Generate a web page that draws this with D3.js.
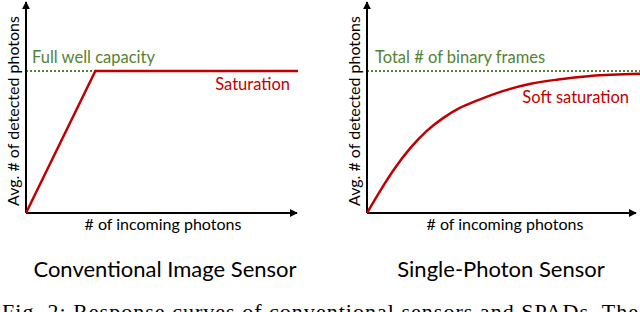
<!DOCTYPE html>
<html>
<head>
<meta charset="utf-8">
<script src="https://cdn.jsdelivr.net/npm/d3@7"></script>
<style>
  body { margin: 0; background: #fff; }
  svg { display: block; }
  text { font-family: Lato, "Open Sans", sans-serif; }
</style>
</head>
<body>
<script>
// incoming photons (0..10) vs detected photons (fraction of the cap)
var conventionalX = [0, 2.55, 10];
var conventionalY = [0, 1, 1];

var spadX = [0, 0.4, 1, 1.6, 2.2, 2.8, 3.4, 4, 5, 6, 7, 8.2, 10];
var spadY = [0, 0.13, 0.31, 0.46, 0.58, 0.67, 0.74, 0.79, 0.86, 0.91, 0.94, 0.965, 0.98];

var capLevel = 1;
var panelTitles = ["Conventional Image Sensor", "Single-Photon Sensor"];
var capLabels = ["Full well capacity", "Total # of binary frames"];
var curveLabels = ["Saturation", "Soft saturation"];
var xTitle = "# of incoming photons";
var yTitle = "Avg. # of detected photons";
var caption = "Fig. 2: Response curves of conventional sensors and SPADs. The";

var red = "#c00000", green = "#548235";

var svg = d3.select("body")
            .append("svg")
            .attr("width", 640)
            .attr("height", 312);

svg.append("defs").append("marker")
   .attr("id", "arrow")
   .attr("viewBox", "0 0 10 10")
   .attr("refX", 9).attr("refY", 5)
   .attr("markerWidth", 4).attr("markerHeight", 4)
   .attr("orient", "auto")
   .append("path")
   .attr("d", "M0,0L10,5L0,10Z")
   .attr("fill", "#000");

var panels = [
  { xs: conventionalX, ys: conventionalY, left: 26, right: 298, axisEnd: 297,
    curve: d3.curveLinear, capEnd: 2.55,
    title: panelTitles[0], titleX: 165, xTitleX: 163,
    cap: capLabels[0], capX: 32,
    lab: curveLabels[0], labX: 290, labY: 90 },
  { xs: spadX, ys: spadY, left: 367, right: 640, axisEnd: 636,
    curve: d3.curveMonotoneX, capEnd: 10,
    title: panelTitles[1], titleX: 501, xTitleX: 505,
    cap: capLabels[1], capX: 375,
    lab: curveLabels[1], labX: 629, labY: 103 }
];

panels.forEach(function(p) {
  var x = d3.scaleLinear().domain([0, 10]).range([p.left, p.right]);
  var y = d3.scaleLinear().domain([0, 1]).range([213, 71]);
  var g = svg.append("g");

  // dotted cap line
  g.append("line")
   .attr("x1", x(0)).attr("x2", x(p.capEnd))
   .attr("y1", y(capLevel)).attr("y2", y(capLevel))
   .attr("stroke", green).attr("stroke-width", 2)
   .attr("stroke-dasharray", "2,2");

  // axes
  g.append("line")
   .attr("x1", x(0)).attr("x2", x(0))
   .attr("y1", y(0)).attr("y2", 2)
   .attr("stroke", "#000").attr("stroke-width", 2)
   .attr("marker-end", "url(#arrow)");
  g.append("line")
   .attr("x1", x(0)).attr("x2", p.axisEnd)
   .attr("y1", y(0)).attr("y2", y(0))
   .attr("stroke", "#000").attr("stroke-width", 2)
   .attr("marker-end", "url(#arrow)");

  // response curve
  var line = d3.line()
               .x(function(d){ return x(d[0]); })
               .y(function(d){ return y(d[1]); })
               .curve(p.curve);
  g.append("path")
   .datum(d3.zip(p.xs, p.ys))
   .attr("d", line)
   .attr("fill", "none")
   .attr("stroke", red)
   .attr("stroke-width", 2.5);

  g.append("text")
   .attr("x", p.capX).attr("y", 63)
   .attr("fill", green).style("font-size", "16.5px")
   .text(p.cap);

  g.append("text")
   .attr("x", p.labX).attr("y", p.labY)
   .attr("text-anchor", "end")
   .attr("fill", red).style("font-size", "16.5px")
   .text(p.lab);

  g.append("text")
   .attr("x", p.xTitleX).attr("y", 230)
   .attr("text-anchor", "middle")
   .style("font-size", "16px")
   .text(xTitle);

  g.append("text")
   .attr("transform", "translate(" + (x(0) - 7) + ",111) rotate(-90)")
   .attr("text-anchor", "middle")
   .style("font-size", "16px")
   .text(yTitle);

  g.append("text")
   .attr("x", p.titleX).attr("y", 277)
   .attr("text-anchor", "middle")
   .style("font-size", "22px")
   .text(p.title);
});

svg.append("text")
   .attr("x", 2).attr("y", 319)
   .attr("textLength", 636)
   .style("font-family", "'Liberation Serif', serif")
   .style("font-size", "22px")
   .text(caption);
</script>
</body>
</html>
